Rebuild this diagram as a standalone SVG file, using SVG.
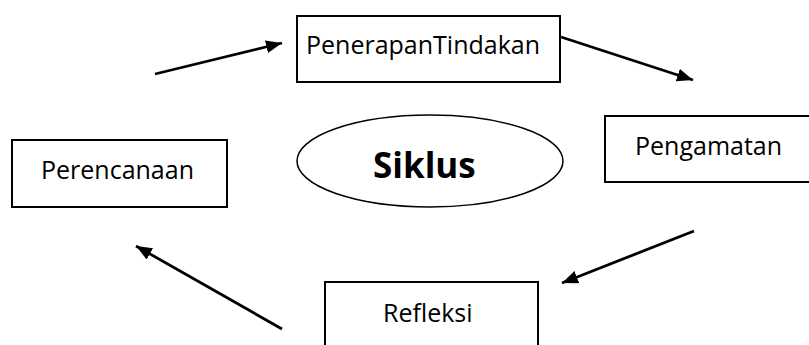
<svg xmlns="http://www.w3.org/2000/svg" width="809" height="345" viewBox="0 0 809 345">
<style>
.box{fill:#fff;stroke:#000;stroke-width:2}
.lbl{font-family:"Open Sans","Noto Sans",sans-serif;font-size:25px;fill:#000}
.title{font-family:"Open Sans","Noto Sans",sans-serif;font-size:35px;font-weight:bold;fill:#000}
.conn{stroke:#000;stroke-width:2.8;fill:none;marker-end:url(#ah)}
</style>
<defs>
<marker id="ah" markerUnits="userSpaceOnUse" markerWidth="17" markerHeight="14" refX="16" refY="6.5" orient="auto" viewBox="0 0 17 14">
<path d="M0,0 L16,6.5 L0,13 z" fill="#000"/>
</marker>
</defs>
<rect width="809" height="345" fill="#fff"/>
<g id="connectors">
<line class="conn" x1="155" y1="74" x2="282" y2="43"/>
<line class="conn" x1="561" y1="37" x2="693" y2="80"/>
<line class="conn" x1="694" y1="231" x2="562" y2="283"/>
<line class="conn" x1="282" y1="329" x2="136" y2="246"/>
</g>
<g id="node-penerapan">
<rect class="box" x="297" y="16" width="263" height="66"/>
<text class="lbl" x="306" y="54">PenerapanTindakan</text>
</g>
<g id="node-pengamatan">
<rect class="box" x="605" y="116" width="210" height="66"/>
<text class="lbl" x="635" y="155">Pengamatan</text>
</g>
<g id="node-perencanaan">
<rect class="box" x="12" y="140" width="215" height="67"/>
<text class="lbl" x="41" y="179">Perencanaan</text>
</g>
<g id="node-refleksi">
<rect class="box" x="325" y="282" width="213" height="70"/>
<text class="lbl" x="383" y="322">Refleksi</text>
</g>
<g id="node-siklus">
<ellipse cx="430" cy="161" rx="133" ry="46" fill="#fff" stroke="#000" stroke-width="1.5"/>
<text class="title" x="373" y="178">Siklus</text>
</g>
</svg>
